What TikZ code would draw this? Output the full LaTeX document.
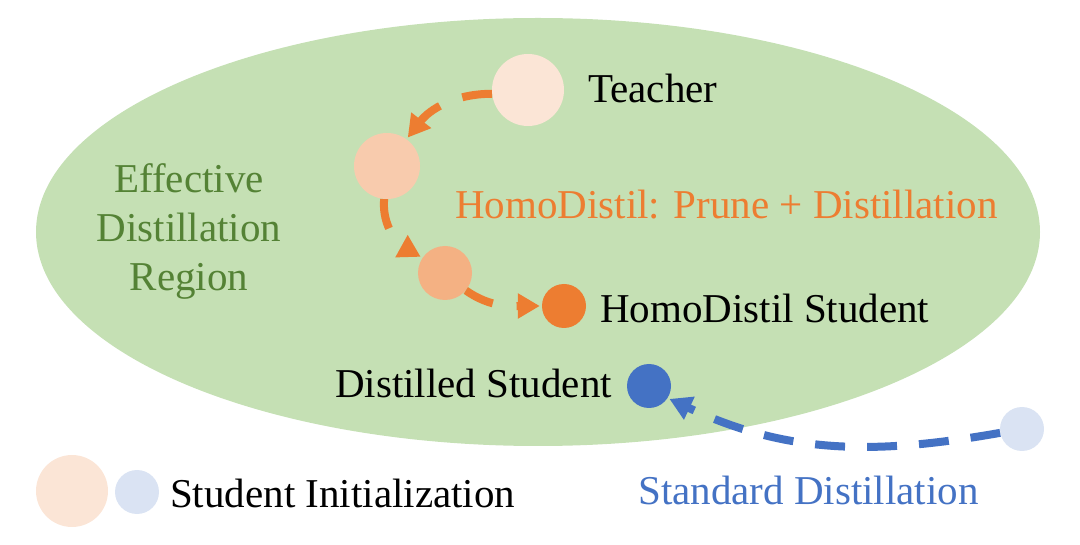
\documentclass[tikz,border=0pt]{standalone}
\usepackage{fontspec}
\setmainfont{Liberation Serif}
\usetikzlibrary{arrows.meta}
\definecolor{regiongreen}{HTML}{C5E0B4}
\definecolor{textgreen}{HTML}{548235}
\definecolor{orng}{HTML}{ED7D31}
\definecolor{blu}{HTML}{4472C4}
\definecolor{lblue}{HTML}{DAE3F3}
\definecolor{or1}{HTML}{FBE5D6}
\definecolor{or2}{HTML}{F8CBAD}
\definecolor{or3}{HTML}{F4B183}
\tikzset{
  dot/.style={circle, inner sep=0pt, draw=none},
  lbl/.style={anchor=west, inner sep=0pt, font=\fontsize{41}{49}\selectfont},
  oarrow/.style={draw=orng, line width=8pt, dash pattern=on 30pt off 24pt,
     -{Triangle[width=24pt,length=22pt]}, shorten >=2pt},
  barrow/.style={draw=blu, line width=8pt, dash pattern=on 30pt off 22pt,
     -{Triangle[width=24pt,length=22pt]}, shorten >=2pt},
}
\begin{document}
\begin{tikzpicture}[x=1pt,y=-1pt]
\useasboundingbox (0,0) rectangle (1080,545);
\fill[regiongreen] (538,232) ellipse [x radius=502, y radius=214];
% circles
\node[dot, fill=or1, minimum size=72pt] (t) at (528,90) {};
\node[dot, fill=or2, minimum size=66pt] (s2) at (387,166) {};
\node[dot, fill=or3, minimum size=54pt] (s3) at (445,273) {};
\node[dot, fill=orng, minimum size=44pt] (hs) at (564,306) {};
\node[dot, fill=blu, minimum size=44pt] (ds) at (649,386) {};
\node[dot, fill=lblue, minimum size=44pt] (si) at (1022,429) {};
\node[dot, fill=or1, minimum size=72pt] (lo) at (72,491) {};
\node[dot, fill=lblue, minimum size=44pt] (lb) at (137,492) {};
% texts
\node[lbl] (tt) at (588,88) {Teacher};
\node[lbl, text=orng] (hd) at (455,205) {HomoDistil: Prune + Distillation};
\node[inner sep=0pt, align=center, text=textgreen, font=\fontsize{41}{49}\selectfont] (edr) at (189,231) {Effective\\Distillation\\Region};
\node[lbl] (hst) at (600,308) {HomoDistil Student};
\node[lbl] (dst) at (335,383) {Distilled Student};
\node[lbl] (sit) at (170,493) {Student Initialization};
\node[lbl, text=blu] (sdt) at (638,490) {Standard Distillation};
% arrows
\draw[oarrow] (t.186) to[out=180, in=52] (s2.54);
\draw[oarrow] (s2.265) to[out=265, in=151] (s3.146);
\draw[oarrow] (s3.-40) to[out=-35, in=180] (hs.west);
\draw[barrow] (si.190) to[out=190, in=-25] (ds.-33);
\end{tikzpicture}
\end{document}
